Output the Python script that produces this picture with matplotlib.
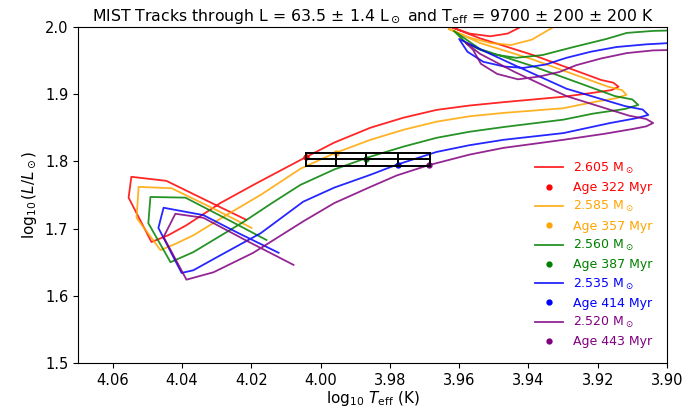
import numpy as np
import matplotlib
matplotlib.use("Agg")
import matplotlib.pyplot as plt
from matplotlib.lines import Line2D

# observed star
L_obs, L_err = 63.5, 1.4
teff_obs, teff_err1, teff_err2 = 9700, 200, 200

masses = ["2.605", "2.585", "2.560", "2.535", "2.520"]
ages = [322, 357, 387, 414, 443]
colors = ["red", "orange", "green", "blue", "purple"]

# tracks (log Teff, log L)
red_logT = [4.0214, 4.0330, 4.0445, 4.0546, 4.0554, 4.0488, 4.0440, 4.0387, 4.0289, 4.0190,
            4.0058, 3.9960, 3.9856, 3.9760, 3.9665, 3.9570, 3.9472, 3.9300, 3.9213, 3.9160,
            3.9140, 3.9155, 3.9190, 3.9386, 3.9540, 3.9645, 3.9570, 3.9510, 3.9460, 3.9410,
            3.9370]
red_logL = [1.713, 1.742, 1.771, 1.777, 1.746, 1.680, 1.690, 1.705, 1.738, 1.766,
            1.802, 1.828, 1.850, 1.865, 1.8765, 1.883, 1.888, 1.896, 1.902, 1.906,
            1.911, 1.917, 1.921, 1.958, 1.983, 2.004, 1.990, 1.986, 1.990, 2.003,
            2.015]

orange_logT = [4.0199, 4.0310, 4.0430, 4.0525, 4.0531, 4.0462, 4.0420, 4.0367, 4.0272, 4.0170,
               4.0058, 3.9960, 3.9856, 3.9760, 3.9665, 3.9570, 3.9472, 3.9299, 3.9213, 3.9145,
               3.9117, 3.9130, 3.9170, 3.9390, 3.9540, 3.9630, 3.9570, 3.9510, 3.9450, 3.9390,
               3.9330, 3.9290]
orange_logL = [1.701, 1.730, 1.760, 1.762, 1.716, 1.668, 1.677, 1.690, 1.720, 1.751,
               1.789, 1.812, 1.832, 1.847, 1.859, 1.867, 1.872, 1.879, 1.888, 1.894,
               1.899, 1.906, 1.911, 1.952, 1.976, 1.997, 1.984, 1.976, 1.973, 1.981,
               1.999, 2.010]

green_logT = [4.0156, 4.0270, 4.0390, 4.0491, 4.0497, 4.0433, 4.0367, 4.0222, 4.0140, 4.0058,
              3.9960, 3.9856, 3.9760, 3.9665, 3.9570, 3.9472, 3.9299, 3.9213, 3.9120, 3.9083,
              3.9100, 3.9150, 3.9390, 3.9540, 3.9615, 3.9580, 3.9540, 3.9500, 3.9435, 3.9360,
              3.9270, 3.9175, 3.9116, 3.9040, 3.8960, 3.8880]
green_logL = [1.683, 1.714, 1.746, 1.747, 1.708, 1.650, 1.665, 1.710, 1.738, 1.765,
              1.788, 1.807, 1.822, 1.835, 1.844, 1.851, 1.862, 1.871, 1.878, 1.884,
              1.892, 1.897, 1.942, 1.967, 1.994, 1.976, 1.966, 1.959, 1.954, 1.958,
              1.970, 1.982, 1.991, 1.994, 1.995, 1.996]

blue_logT = [4.0121, 4.0240, 4.0338, 4.0453, 4.0468, 4.0401, 4.0367, 4.0290, 4.0173, 4.0050,
             3.9960, 3.9856, 3.9780, 3.9665, 3.9570, 3.9472, 3.9299, 3.9164, 3.9090, 3.9054,
             3.9070, 3.9120, 3.9290, 3.9440, 3.9540, 3.9600, 3.9576, 3.9530, 3.9470, 3.9414,
             3.9350, 3.9290, 3.9220, 3.9146, 3.9060, 3.8990, 3.8880]
blue_logL = [1.664, 1.694, 1.720, 1.731, 1.701, 1.634, 1.638, 1.660, 1.693, 1.740,
             1.761, 1.780, 1.795, 1.814, 1.824, 1.832, 1.842, 1.857, 1.864, 1.869,
             1.877, 1.882, 1.908, 1.943, 1.967, 1.982, 1.963, 1.948, 1.941, 1.939,
             1.944, 1.954, 1.963, 1.970, 1.974, 1.976, 1.977]

purple_logT = [4.0078, 4.0210, 4.0338, 4.0419, 4.0453, 4.0387, 4.0309, 4.0194, 4.0049, 3.9960,
               3.9856, 3.9780, 3.9690, 3.9570, 3.9472, 3.9299, 3.9180, 3.9100, 3.9060, 3.9040,
               3.9060, 3.9110, 3.9290, 3.9440, 3.9540, 3.9580, 3.9560, 3.9537, 3.9490, 3.9430,
               3.9370, 3.9310, 3.9262, 3.9190, 3.9116, 3.9040, 3.8960, 3.8880]
purple_logL = [1.646, 1.681, 1.716, 1.722, 1.6875, 1.624, 1.635, 1.664, 1.711, 1.738,
               1.762, 1.779, 1.794, 1.810, 1.820, 1.832, 1.841, 1.848, 1.852, 1.857,
               1.863, 1.868, 1.897, 1.933, 1.960, 1.976, 1.966, 1.945, 1.930, 1.922,
               1.926, 1.933, 1.943, 1.953, 1.961, 1.965, 1.966, 1.967]

# position of each track at the given age
age_logT = [4.0043, 3.9956, 3.9868, 3.9777, 3.9686]
age_logL = [1.806, 1.812, 1.803, 1.795, 1.794]

tracks_T = [red_logT, orange_logT, green_logT, blue_logT, purple_logT]
tracks_L = [red_logL, orange_logL, green_logL, blue_logL, purple_logL]

fig = plt.figure(figsize=(6.99, 4.07), dpi=100)
ax = fig.add_axes([0.1116, 0.108, 0.8426, 0.826])

handles = []
labels = []
for i in range(len(masses)):
    ax.plot(tracks_T[i], tracks_L[i], color=colors[i], lw=1.3, alpha=0.85, zorder=2)
    ax.plot(age_logT[i], age_logL[i], 'o', color=colors[i], ms=3.5, zorder=3)
    handles.append(Line2D([], [], color=colors[i], lw=1.3, alpha=0.85))
    labels.append(masses[i] + r" M$_\odot$")
    handles.append(Line2D([], [], color=colors[i], marker='o', ls='', ms=3.5))
    labels.append(f"Age {ages[i]} Myr")

# error box on the observed L and Teff
logL_rows = np.log10([L_obs - L_err, L_obs, L_obs + L_err])
teff_cols = [teff_obs - teff_err1 - teff_err2, teff_obs - teff_err1, teff_obs,
             teff_obs + teff_err1, teff_obs + teff_err1 + teff_err2]
logT_cols = np.log10(teff_cols)
for yy in logL_rows:
    ax.plot([logT_cols[0], logT_cols[-1]], [yy, yy], color='black', lw=1.4, zorder=4)
for xx in logT_cols:
    ax.plot([xx, xx], [logL_rows[0], logL_rows[-1]], color='black', lw=1.4, zorder=4)

ax.set_xlim(4.07, 3.90)
ax.set_ylim(1.5, 2.0)
ax.set_xticks(np.arange(4.06, 3.899, -0.02))
ax.set_yticks([1.5, 1.6, 1.7, 1.8, 1.9, 2.0])
ax.tick_params(labelsize=10.5)
ax.set_xlabel(r"$\log_{10}\,T_{\rm eff}$ (K)", fontsize=11, labelpad=1)
ax.set_ylabel(r"$\log_{10}(L/L_\odot)$", fontsize=11)
ax.set_title(f"MIST Tracks through L = {L_obs} ± {L_err} L$_\\odot$ and "
             f"T$_{{\\rm eff}}$ = {teff_obs} ± {teff_err1} ± {teff_err2} K",
             fontsize=11.3, pad=4)

leg = ax.legend(handles, labels, loc='lower right', bbox_to_anchor=(0.995, 0.01),
                frameon=False, fontsize=9, labelspacing=0.42, handlelength=2.3)
for t, c in zip(leg.get_texts(), [c for c in colors for _ in range(2)]):
    t.set_color(c)

fig.savefig("out.png", dpi=100)
